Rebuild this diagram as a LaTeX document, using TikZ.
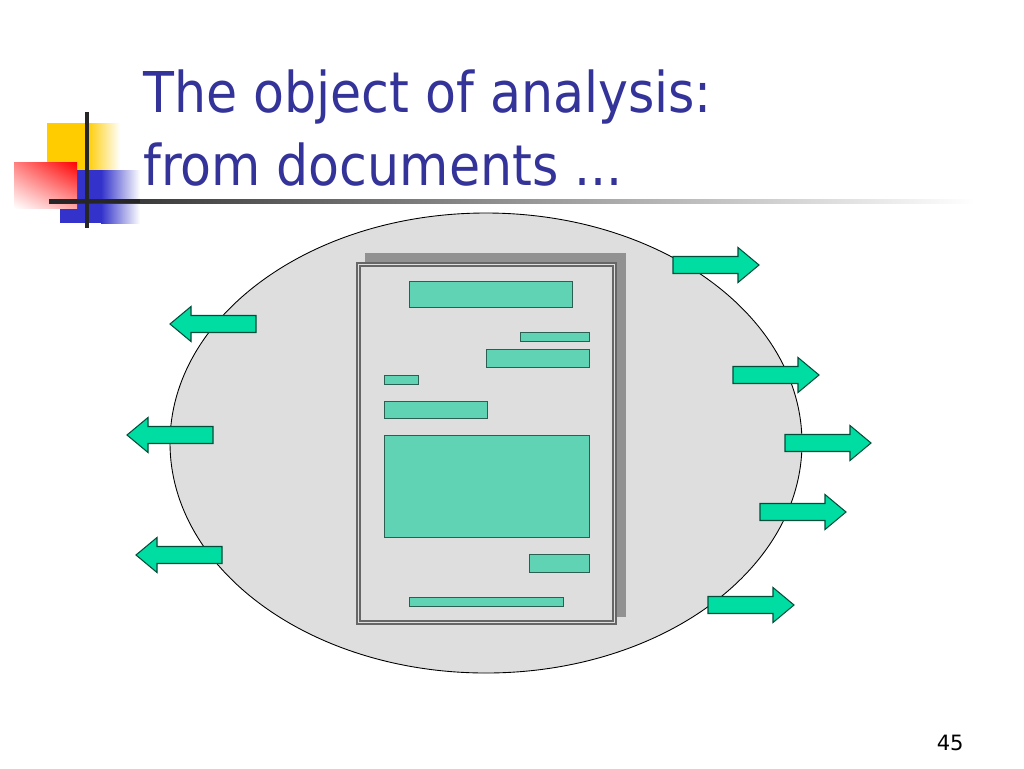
\documentclass[tikz,border=0pt]{standalone}
\usepackage{fontspec}
\usetikzlibrary{shadings}
\setmainfont{DejaVu Sans}
\newfontfamily\titlefont{DejaVu Sans Condensed}
\definecolor{titleblue}{HTML}{333399}
\definecolor{blockgreen}{HTML}{5FD3B4}
\definecolor{arrowgreen}{HTML}{00DDA2}
\definecolor{ovalgray}{HTML}{DEDEDE}
\definecolor{logoyellow}{HTML}{FFCC00}
\definecolor{logoblue}{HTML}{3333CC}
\begin{document}
\begin{tikzpicture}[x=0.02cm, y=-0.02cm,
  blk/.style={draw=black!55!blockgreen, fill=blockgreen, line width=0.45pt},
  arrowline/.style={draw=black!65!arrowgreen, fill=arrowgreen, line width=0.6pt},
  rarr/.pic={\path[arrowline] (0,-8.5) -- (65,-8.5) -- (65,-17.5) -- (86,0)
      -- (65,17.5) -- (65,8.5) -- (0,8.5) -- cycle;}]
  \useasboundingbox[fill=white] (0,0) rectangle (1024,768);
  % logo
  \fill[logoyellow] (47,123) rectangle (88,170);
  \shade[left color=logoyellow, right color=white] (87,123) rectangle (120,170);
  \fill[logoblue] (60,170) rectangle (102,223);
  \shade[left color=logoblue, right color=white] (101,170) rectangle (140,223);
  \shade[upper right=red, upper left=red!50, lower right=red!35, lower left=white]
      (14,162) rectangle (77,208);
  \shade[left color=black!85, right color=white, draw=none] (49,199) rectangle (975,203);
  \fill[black!85] (49,199) rectangle (140,203);
  \draw[black!85, line width=2.5pt] (87,112) -- (87,228);
  % title
  \node[anchor=base west, inner sep=0, text=titleblue, font=\titlefont\fontsize{32}{40}\selectfont]
      (title1) at (143,112) {The object of analysis:};
  \node[anchor=base west, inner sep=0, text=titleblue, font=\titlefont\fontsize{32}{40}\selectfont]
      (title2) at (143,185) {from documents ...};
  % oval
  \draw[fill=ovalgray, line width=0.5pt] (486,443) ellipse [x radius=316, y radius=230];
  % document page
  \fill[black!43] (365,253) rectangle (626,617);
  \draw[black!60, fill=ovalgray, line width=0.9pt] (357,263) rectangle (616,624);
  \draw[black!60, line width=0.6pt] (360,266) rectangle (613,621);
  \draw[blk] (409,281) rectangle (572,307);
  \draw[blk] (520,332) rectangle (589,341);
  \draw[blk] (486,349) rectangle (589,367);
  \draw[blk] (384,375) rectangle (418,384);
  \draw[blk] (384,401) rectangle (487,418);
  \draw[blk] (384,435) rectangle (589,537);
  \draw[blk] (529,554) rectangle (589,572);
  \draw[blk] (409,597) rectangle (563,606);
  % outgoing arrows
  \foreach \x/\y in {673/265, 733/375, 785/443, 760/512, 708/605}
    \pic at (\x,\y) {rarr};
  \foreach \x/\y in {256/324, 213/435, 222/555}
    \pic[xscale=-1] at (\x,\y) {rarr};
  % page number
  \node[anchor=base east, inner sep=0, font=\fontsize{12}{14}\selectfont] (pageno) at (964,750) {45};
\end{tikzpicture}
\end{document}
